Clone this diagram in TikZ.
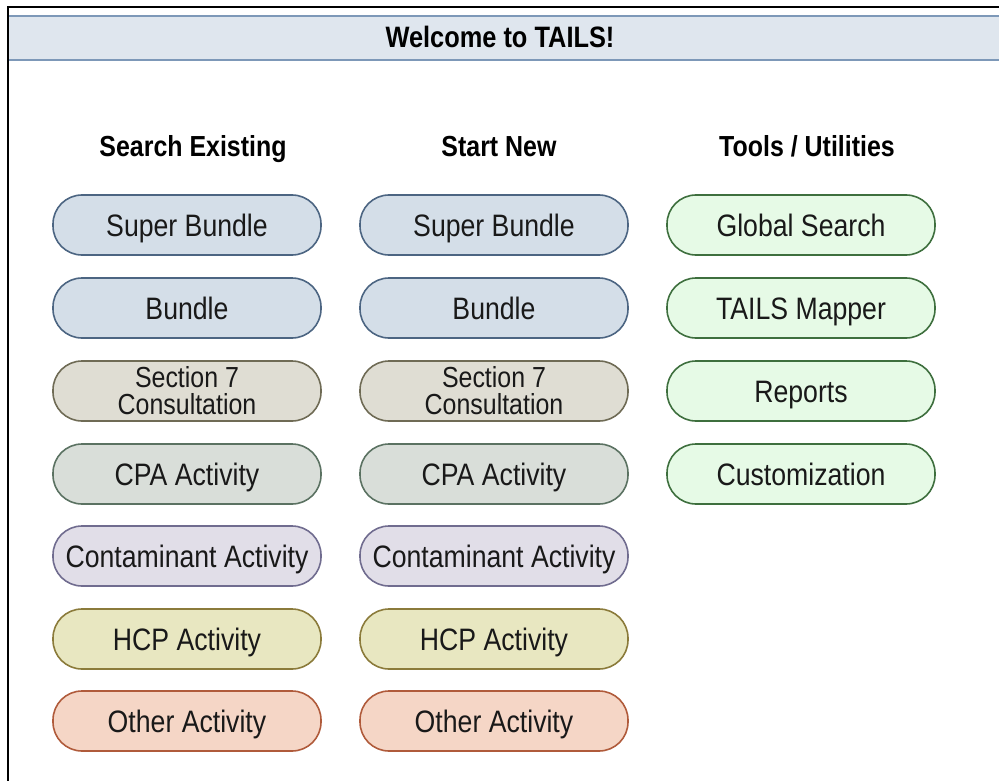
\documentclass[tikz,border=0pt]{standalone}
\usepackage{fontspec}
\setmainfont{Liberation Sans}[FakeStretch=0.86]
\definecolor{headfill}{HTML}{DFE6EE}
\definecolor{headline}{HTML}{7D98B8}
\definecolor{blue_fill}{HTML}{D4DEE8}
\definecolor{blue_line}{HTML}{4C6582}
\definecolor{sect_fill}{HTML}{DFDDD3}
\definecolor{sect_line}{HTML}{6F6B55}
\definecolor{cpa_fill}{HTML}{D9DED9}
\definecolor{cpa_line}{HTML}{5B7262}
\definecolor{cont_fill}{HTML}{E1DEE8}
\definecolor{cont_line}{HTML}{706C8F}
\definecolor{hcp_fill}{HTML}{E8E7C1}
\definecolor{hcp_line}{HTML}{8B7B3B}
\definecolor{other_fill}{HTML}{F5D6C6}
\definecolor{other_line}{HTML}{B05B3B}
\definecolor{tool_fill}{HTML}{E6FAE6}
\definecolor{tool_line}{HTML}{3E6F3E}

\begin{document}
\begin{tikzpicture}[
  x=1pt, y=-1pt,
  pill_base/.style={rectangle, rounded corners=29pt, minimum width=268pt, minimum height=60pt, inner sep=0pt, line width=1.6pt, align=center, text=black!90, font=\fontsize{31}{26}\selectfont},
  pill/.style={pill_base, text height=22pt, text depth=0pt},
  blue_pill/.style={pill, fill=blue_fill, draw=blue_line},
  sect_pill/.style={pill_base, fill=sect_fill, draw=sect_line, font=\fontsize{29}{27}\selectfont},
  cpa_pill/.style={pill, fill=cpa_fill, draw=cpa_line},
  cont_pill/.style={pill, fill=cont_fill, draw=cont_line},
  hcp_pill/.style={pill, fill=hcp_fill, draw=hcp_line},
  other_pill/.style={pill, fill=other_fill, draw=other_line},
  tool_pill/.style={pill, fill=tool_fill, draw=tool_line},
  col_head/.style={inner sep=0pt, anchor=base, font=\bfseries\fontsize{29}{31}\selectfont},
]
\useasboundingbox (0,0) rectangle (999,781);
% frame and title band
\fill[headfill] (8,16) rectangle (999,60);
\draw[headline, line width=1.5pt] (8,16) -- (999,16);
\draw[headline, line width=1.5pt] (8,60) -- (999,60);
\draw[black, line width=1.5pt] (8,781) -- (8,7) -- (999,7);
\node (title) [col_head, font=\bfseries\fontsize{29.5}{31}\selectfont] at (500,48) {Welcome to TAILS!};
% column heads
\node (h_search) [col_head] at (193,157) {Search Existing};
\node (h_new)    [col_head] at (499,157) {Start New};
\node (h_tools)  [col_head] at (807,157) {Tools / Utilities};
% search existing
\node (s_super) [blue_pill]  at (187,225) {Super Bundle};
\node (s_bund)  [blue_pill]  at (187,308) {Bundle};
\node (s_sect)  [sect_pill]  at (187,391) {Section 7\\Consultation};
\node (s_cpa)   [cpa_pill]   at (187,474) {CPA Activity};
\node (s_cont)  [cont_pill]  at (187,556) {Contaminant Activity};
\node (s_hcp)   [hcp_pill]   at (187,639) {HCP Activity};
\node (s_other) [other_pill] at (187,721) {Other Activity};
% start new
\node (n_super) [blue_pill]  at (494,225) {Super Bundle};
\node (n_bund)  [blue_pill]  at (494,308) {Bundle};
\node (n_sect)  [sect_pill]  at (494,391) {Section 7\\Consultation};
\node (n_cpa)   [cpa_pill]   at (494,474) {CPA Activity};
\node (n_cont)  [cont_pill]  at (494,556) {Contaminant Activity};
\node (n_hcp)   [hcp_pill]   at (494,639) {HCP Activity};
\node (n_other) [other_pill] at (494,721) {Other Activity};
% tools
\node (t_search) [tool_pill] at (801,225) {Global Search};
\node (t_mapper) [tool_pill] at (801,308) {TAILS Mapper};
\node (t_report) [tool_pill] at (801,391) {Reports};
\node (t_custom) [tool_pill] at (801,474) {Customization};
\end{tikzpicture}
\end{document}
